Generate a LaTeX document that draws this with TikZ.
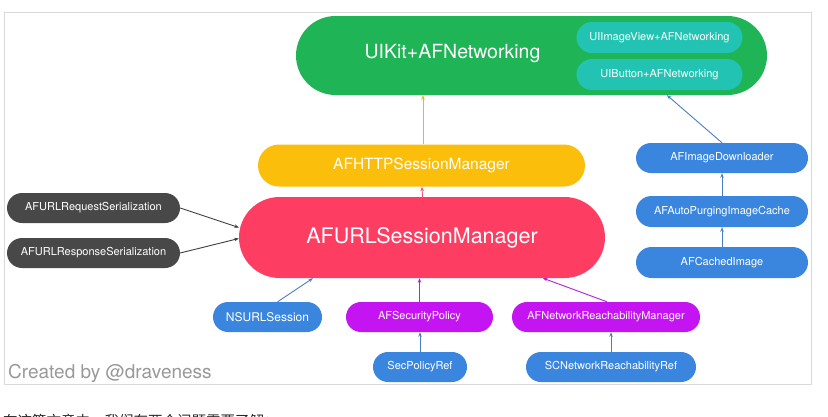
\documentclass[tikz,border=0pt]{standalone}
\usepackage{fontspec}
\setmainfont{TeX Gyre Heros}
\newfontfamily\cjk{Noto Sans CJK SC}
\usetikzlibrary{arrows.meta}
\definecolor{cgreen}{HTML}{1FB455}
\definecolor{cteal}{HTML}{22C3B2}
\definecolor{cyellow}{HTML}{FBBE0A}
\definecolor{cred}{HTML}{FD3E62}
\definecolor{cdark}{HTML}{484848}
\definecolor{cblue}{HTML}{3A86DE}
\definecolor{cpurple}{HTML}{C514F2}
\definecolor{aYellow}{HTML}{F5B417}
\definecolor{aRed}{HTML}{F0557A}
\definecolor{aDark}{HTML}{3C3C3C}
\definecolor{aBlue}{HTML}{4A7EC4}
\definecolor{aPurple}{HTML}{B41FE0}
\definecolor{frameC}{HTML}{D9D9D9}
\tikzset{
  pill/.style={rectangle, rounded corners=15pt, minimum height=30pt, inner sep=0pt, text=white, font=\fontsize{11}{13}\selectfont},
  conn/.style={line width=0.9pt, -{Stealth[length=4.5pt,width=3.5pt]}},
}
\begin{document}
\begin{tikzpicture}[x=1pt,y=-1pt]
\useasboundingbox (0,0) rectangle (828,416);
\clip (0,0) rectangle (828,416);
\fill[white] (0,0) rectangle (828,416);
\draw[frameC, line width=0.8pt] (4,12) rectangle (811,384);

% top green block
\node[pill, fill=cgreen, rounded corners=39.5pt, minimum width=471pt, minimum height=79pt] (uikit) at (531.5,55.5) {};
\node[text=white, font=\fontsize{19.5}{22}\selectfont, inner sep=0pt] (uikittext) at (452.5,54) {UIKit+AFNetworking};
\node[pill, fill=cteal, rounded corners=15.5pt, minimum width=166pt, minimum height=31pt] (uiimg) at (659.5,37.5) {UIImageView+AFNetworking};
\node[pill, fill=cteal, rounded corners=15.5pt, minimum width=166pt, minimum height=31pt] (uibtn) at (659.5,74.5) {UIButton+AFNetworking};

% managers
\node[pill, fill=cyellow, rounded corners=21pt, minimum width=327pt, minimum height=42pt, font=\fontsize{15.5}{18}\selectfont] (httpm) at (421.5,165.5) {AFHTTPSessionManager};
\node[pill, fill=cred, rounded corners=40.5pt, minimum width=366pt, minimum height=81pt, font=\fontsize{21.5}{24}\selectfont] (urlsm) at (422,237.5) {AFURLSessionManager};

% serializers
\node[pill, fill=cdark, minimum width=173pt] (req) at (93.5,208) {AFURLRequestSerialization};
\node[pill, fill=cdark, minimum width=173pt] (resp) at (93.5,253) {AFURLResponseSerialization};

% image stack
\node[pill, fill=cblue, minimum width=172pt] (dl) at (722,158) {AFImageDownloader};
\node[pill, fill=cblue, minimum width=172pt, minimum height=31pt, rounded corners=15.5pt] (cache) at (722,211.5) {AFAutoPurgingImageCache};
\node[pill, fill=cblue, minimum width=172pt, minimum height=31pt, rounded corners=15.5pt] (cimg) at (722,262.5) {AFCachedImage};

% bottom row
\node[pill, fill=cblue, minimum width=109pt, font=\fontsize{12}{14}\selectfont] (nsurl) at (267.5,317) {NSURLSession};
\node[pill, fill=cpurple, minimum width=147pt] (secpol) at (419.5,317) {AFSecurityPolicy};
\node[pill, fill=cpurple, minimum width=188pt] (netm) at (606,317) {AFNetworkReachabilityManager};
\node[pill, fill=cblue, minimum width=94pt] (secref) at (420,367) {SecPolicyRef};
\node[pill, fill=cblue, minimum width=170pt] (scref) at (611,367) {SCNetworkReachabilityRef};

% connectors
\draw[conn, aYellow] ([xshift=1.5pt]httpm.north) -- ([xshift=1.5pt]httpm.north |- uikit.south);
\draw[conn, aRed] ([xshift=0.5pt]urlsm.north) -- ([xshift=0.5pt]httpm.south);
\draw[conn, aDark] (req.east) -- ([yshift=10pt]urlsm.west);
\draw[conn, aDark] (resp.east) -- ([yshift=-1pt]urlsm.west);
\draw[conn, aBlue] ([xshift=10pt]nsurl.north) -- ([xshift=-109pt]urlsm.south);
\draw[conn, aPurple] (secpol.north) -- (secpol.north |- urlsm.south);
\draw[conn, aPurple] ([xshift=1pt]netm.north) -- ([xshift=121pt]urlsm.south);
\draw[conn, aBlue] (secref.north) -- (secref.north |- secpol.south);
\draw[conn, aBlue] (scref.north) -- (scref.north |- netm.south);
\draw[conn, aBlue] (cimg.north) -- (cache.south);
\draw[conn, aBlue] (cache.north) -- (dl.south);
\draw[conn, aBlue] (dl.north) -- ([xshift=135.5pt]uikit.south);

% caption
\node[anchor=base west, inner sep=0pt, text=black!40, font=\fontsize{19}{22}\selectfont] (credit) at (8,378) {Created by @draveness};
\node[anchor=base west, inner sep=0pt, text=black!85, font=\cjk\fontsize{14.5}{17}\selectfont] (cntext) at (3,426) {在这篇文章中，我们有两个问题需要了解：};
\end{tikzpicture}
\end{document}
